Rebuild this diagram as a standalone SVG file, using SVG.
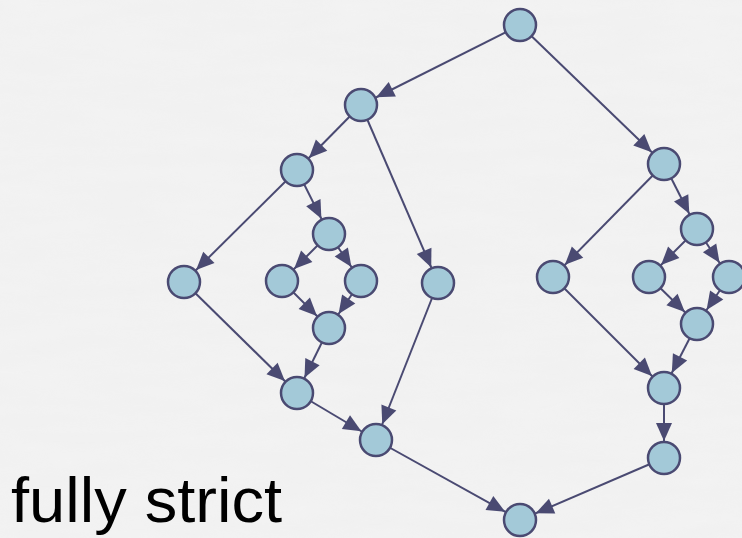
<svg xmlns="http://www.w3.org/2000/svg" width="742" height="538" viewBox="0 0 742 538">
  <defs>
    <style>
      .edge { stroke: #4a4a72; stroke-width: 2; fill: none; marker-end: url(#arrow); }
      .node circle { fill: #a3c9d8; stroke: #4a4a72; stroke-width: 2.5; }
      .label { font-family: "Liberation Sans", Arial, sans-serif; font-size: 63px; fill: #000; }
    </style>
    <!-- arrow tip pulled back by the node radius so it touches the circle edge -->
    <marker id="arrow" viewBox="0 0 18 16" markerWidth="18" markerHeight="16" refX="35" refY="8" orient="auto" markerUnits="userSpaceOnUse" overflow="visible">
      <path d="M0,0 L18,8 L0,16 Z" fill="#4a4a72"/>
    </marker>
    <filter id="paper" x="0" y="0" width="100%" height="100%">
      <feTurbulence type="fractalNoise" baseFrequency="0.012 0.06" numOctaves="3" seed="4"/>
      <feColorMatrix type="matrix" values="0 0 0 0 0.94  0 0 0 0 0.94  0 0 0 0 0.94  0 0 0 -0.6 0.45"/>
    </filter>
  </defs>

  <rect width="742" height="538" fill="#f1f1f1"/>
  <rect width="742" height="538" fill="#e6e6e6" opacity="0.5" filter="url(#paper)"/>

  <g id="connectors">
    <line class="edge" x1="520" y1="25" x2="361" y2="105"/>
    <line class="edge" x1="520" y1="25" x2="664" y2="164"/>
    <line class="edge" x1="361" y1="105" x2="297" y2="170"/>
    <line class="edge" x1="361" y1="105" x2="438" y2="283"/>
    <line class="edge" x1="297" y1="170" x2="184" y2="282"/>
    <line class="edge" x1="297" y1="170" x2="329" y2="234"/>
    <line class="edge" x1="329" y1="234" x2="282" y2="281"/>
    <line class="edge" x1="329" y1="234" x2="361" y2="281"/>
    <line class="edge" x1="282" y1="281" x2="329" y2="328"/>
    <line class="edge" x1="361" y1="281" x2="329" y2="328"/>
    <line class="edge" x1="329" y1="328" x2="297" y2="393"/>
    <line class="edge" x1="184" y1="282" x2="297" y2="393"/>
    <line class="edge" x1="297" y1="393" x2="376" y2="440"/>
    <line class="edge" x1="438" y1="283" x2="376" y2="440"/>
    <line class="edge" x1="376" y1="440" x2="520" y2="520"/>
    <line class="edge" x1="664" y1="164" x2="553" y2="277"/>
    <line class="edge" x1="664" y1="164" x2="697" y2="229"/>
    <line class="edge" x1="697" y1="229" x2="649" y2="277"/>
    <line class="edge" x1="697" y1="229" x2="729" y2="277"/>
    <line class="edge" x1="649" y1="277" x2="697" y2="324"/>
    <line class="edge" x1="729" y1="277" x2="697" y2="324"/>
    <line class="edge" x1="697" y1="324" x2="664" y2="388"/>
    <line class="edge" x1="553" y1="277" x2="664" y2="388"/>
    <line class="edge" x1="664" y1="388" x2="664" y2="458"/>
    <line class="edge" x1="664" y1="458" x2="520" y2="520"/>
  </g>

  <g id="n-root" class="node"><circle cx="520" cy="25" r="16"/></g>
  <g id="n-a" class="node"><circle cx="361" cy="105" r="16"/></g>
  <g id="n-a1" class="node"><circle cx="297" cy="170" r="16"/></g>
  <g id="n-a1b" class="node"><circle cx="329" cy="234" r="16"/></g>
  <g id="n-a1a" class="node"><circle cx="184" cy="282" r="16"/></g>
  <g id="n-a1b-l" class="node"><circle cx="282" cy="281" r="16"/></g>
  <g id="n-a1b-r" class="node"><circle cx="361" cy="281" r="16"/></g>
  <g id="n-a2" class="node"><circle cx="438" cy="283" r="16"/></g>
  <g id="n-a1b-join" class="node"><circle cx="329" cy="328" r="16"/></g>
  <g id="n-a1-join" class="node"><circle cx="297" cy="393" r="16"/></g>
  <g id="n-a-join" class="node"><circle cx="376" cy="440" r="16"/></g>
  <g id="n-sink" class="node"><circle cx="520" cy="520" r="16"/></g>
  <g id="n-b" class="node"><circle cx="664" cy="164" r="16"/></g>
  <g id="n-b2" class="node"><circle cx="697" cy="229" r="16"/></g>
  <g id="n-b1" class="node"><circle cx="553" cy="277" r="16"/></g>
  <g id="n-b2-l" class="node"><circle cx="649" cy="277" r="16"/></g>
  <g id="n-b2-r" class="node"><circle cx="729" cy="277" r="16"/></g>
  <g id="n-b2-join" class="node"><circle cx="697" cy="324" r="16"/></g>
  <g id="n-b-join" class="node"><circle cx="664" cy="388" r="16"/></g>
  <g id="n-b-tail" class="node"><circle cx="664" cy="458" r="16"/></g>

  <text class="label" x="11" y="522" textLength="271" lengthAdjust="spacingAndGlyphs">fully strict</text>
</svg>
